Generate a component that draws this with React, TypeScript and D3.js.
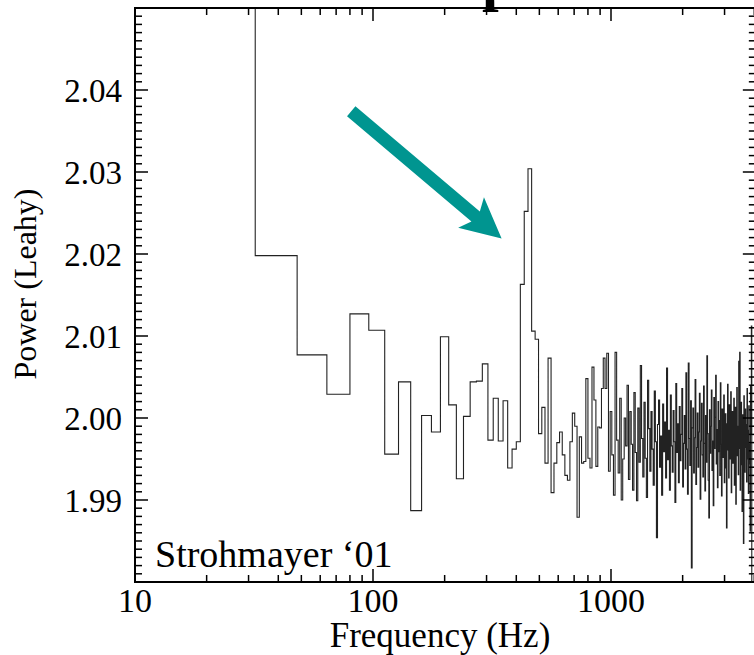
import React from "react";
import * as d3 from "d3";

// ---- data ----
const binWidth = 16; // Hz, linear bins
const firstBinStart = 16;
const powerValues: number[] = [
  2.08, 2.0198, 2.0077, 2.0029, 2.0127, 2.0107, 1.9956, 2.0044, 1.9887, 2.0003,
  1.9983, 2.0099, 2.0016, 1.9926, 2.0002, 2.0044, 2.0045, 2.0066, 1.9973, 2.0024,
  1.9972, 2.0021, 1.9939, 1.9962, 1.9971, 2.0163, 2.0252, 2.0304, 2.0106, 2.0096,
  1.9981, 2.0013, 1.9945, 2.0073, 1.9909, 1.9945, 1.997, 1.9983, 1.9955, 1.993,
  1.9924, 1.9971, 2.0006, 1.999, 1.9879, 1.9977, 1.9945, 1.9947, 2.0048, 1.9951,
  1.9939, 2.0062, 2.0022, 1.9941, 1.9989, 1.9988, 2.0036, 2.0073, 2.0036, 2.0079,
  1.9935, 2.0008, 1.9955, 1.9906, 2.008, 1.9973, 1.9933, 2.0024, 1.99, 1.995,
  2.0, 1.9966,
  2.004, 1.9925, 2.0008, 1.9968, 1.9912, 2.0031, 1.9958, 1.9899, 2.0012, 1.9946,
  2.0064, 1.9975, 1.9928, 2.0019, 1.9951, 1.9903, 2.0046, 1.9987, 1.9935, 2.0008,
  1.9962, 1.9918, 2.0033, 1.9971, 1.9854, 1.9992, 2.0022, 1.994, 1.9978, 1.9906,
  2.0017, 1.9959, 1.9995, 1.9927, 2.0061, 1.9949, 1.9985, 1.9912, 2.0028, 1.9966,
  1.9934, 2.0009, 1.9971, 1.9897, 2.0042, 1.9958, 1.9993, 1.9921, 2.0014, 1.9948,
  1.998, 2.0036, 1.9916, 1.9969, 2.0003, 1.9938, 2.0055, 1.9962, 1.9907, 2.0067,
  1.9975, 1.9942, 2.0021, 1.9817, 1.9988, 2.0012, 1.9933, 1.9976, 2.0047, 1.9919,
  1.9964, 2.0006, 1.994, 1.9983, 2.003, 1.9901, 1.9972, 2.0018, 1.9955, 1.9928,
  2.0039, 1.9969, 1.9911, 2.0003, 1.9946, 2.0076, 1.9981, 1.9924, 1.9878, 2.001,
  1.9957, 1.999, 2.0034, 1.9936, 1.9972, 1.9893, 2.0025, 1.9963, 2.0001, 2.0052,
  1.9944, 1.9986, 1.9915, 2.002, 1.9959, 1.9997, 1.993, 2.0043, 1.9968, 1.9905,
  2.0011, 1.9952, 1.9984, 2.0028, 1.9921, 1.9975, 2.0005, 1.9939, 1.9866, 1.9993,
  2.0041, 1.9961, 1.9927, 2.0016, 1.995, 1.9988, 2.0032, 1.9909, 1.9973, 2.0008,
  1.9945, 1.9982, 2.0024, 1.9918, 1.9966, 2.0013, 1.9895, 1.9979, 2.0037, 1.9954,
  1.999, 1.9931, 2.0069, 1.9963, 2.008, 1.9912, 1.9978, 2.0019, 1.9943, 1.9886,
  2.0004, 1.9958, 1.9847, 2.0027, 1.997, 1.9934, 2.0011, 1.9964, 1.9992, 1.9922,
  2.0036, 1.995, 1.9985, 1.9908, 2.0015, 1.9968, 1.9944, 1.9862, 2.0039, 1.9981,
  2.0112,
];
const xMajorTicks = [10, 100, 1000];
const xTickLabels = ["10", "100", "1000"];
const yTickLabels = [1.99, 2.0, 2.01, 2.02, 2.03, 2.04];
const xDomain: [number, number] = [10, 10000];
const xFrameMax = 4060;
const yDomain: [number, number] = [1.98, 2.05];
const arrowTail: [number, number] = [81, 2.0374];
const arrowTip: [number, number] = [347, 2.0219];
const annotation = "Strohmayer \u201801";
const titleFragment = "p";

const W = 754;
const H = 655;
const FONT = "'Liberation Serif', 'Times New Roman', serif";
const TEAL = "#009590";

export default function App() {
  const x = d3.scaleLog().domain(xDomain).range([135, 135 + 3 * 238]);
  const y = d3.scaleLinear().domain(yDomain).range([582, 8]);

  const left = x(xDomain[0]);
  const right = x(xFrameMax);
  const top = y(yDomain[1]);
  const bottom = y(yDomain[0]);

  const pts: [number, number][] = powerValues.map((v, i) => [
    firstBinStart + i * binWidth,
    v,
  ]);
  const lastEdge = firstBinStart + powerValues.length * binWidth;
  pts.push([lastEdge, powerValues[powerValues.length - 1]]);

  const line = d3
    .line<[number, number]>()
    .x((d) => x(d[0]))
    .y((d) => y(d[1]))
    .curve(d3.curveStepAfter);
  const pathD = line(pts) + `L${x(lastEdge)},${y(yDomain[0])}`;

  // ticks
  const xMinor: number[] = [];
  for (let dec = 10; dec < xFrameMax; dec *= 10) {
    for (let k = 2; k <= 9; k++) {
      const v = dec * k;
      if (v < xFrameMax) xMinor.push(v);
    }
  }
  const yMinor = d3
    .range(1981, 2050)
    .filter((i) => i % 10 !== 0)
    .map((i) => i / 1000);
  const yMajor = d3.range(198, 206).map((i) => i / 100);

  // arrow geometry
  const tx = x(arrowTail[0]);
  const ty = y(arrowTail[1]);
  const hx = x(arrowTip[0]);
  const hy = y(arrowTip[1]);
  const len = Math.hypot(hx - tx, hy - ty);
  const ux = (hx - tx) / len;
  const uy = (hy - ty) / len;
  const nx = -uy;
  const ny = ux;
  const shaftW = 13;
  const headW = 40;
  const headL = 40;
  const bx = hx - ux * headL;
  const by = hy - uy * headL;
  const arrowPts = [
    [tx + (nx * shaftW) / 2, ty + (ny * shaftW) / 2],
    [bx + (nx * shaftW) / 2 + ux * 6, by + (ny * shaftW) / 2 + uy * 6],
    [bx + (nx * headW) / 2, by + (ny * headW) / 2],
    [hx, hy],
    [bx - (nx * headW) / 2, by - (ny * headW) / 2],
    [bx - (nx * shaftW) / 2 + ux * 6, by - (ny * shaftW) / 2 + uy * 6],
    [tx - (nx * shaftW) / 2, ty - (ny * shaftW) / 2],
  ]
    .map((p) => p.join(","))
    .join(" ");

  const majLen = 13;
  const minLen = 7;

  return (
    <svg
      width={W}
      height={H}
      viewBox={`0 0 ${W} ${H}`}
      style={{ position: "absolute", left: 0, top: 0, background: "#fff" }}
      fontFamily={FONT}
    >
      <rect x={0} y={0} width={W} height={H} fill="#fff" />
      <defs>
        <clipPath id="plotClip">
          <rect x={left} y={top} width={right - left} height={bottom - top} />
        </clipPath>
      </defs>

      {/* title fragment (cut off at the top) */}
      <text x={482} y={-1} fontSize={60} fontWeight="bold" fill="#000">
        {titleFragment}
      </text>

      {/* data */}
      <path
        d={pathD}
        fill="none"
        stroke="#222"
        strokeWidth={1.1}
        clipPath="url(#plotClip)"
      />

      {/* ticks */}
      <g stroke="#000" strokeWidth={1.5}>
        {xMajorTicks.map((t) => (
          <g key={"xm" + t}>
            <line x1={x(t)} x2={x(t)} y1={bottom} y2={bottom - majLen} />
            <line x1={x(t)} x2={x(t)} y1={top} y2={top + majLen} />
          </g>
        ))}
        {xMinor.map((t) => (
          <g key={"xn" + t}>
            <line x1={x(t)} x2={x(t)} y1={bottom} y2={bottom - minLen} />
            <line x1={x(t)} x2={x(t)} y1={top} y2={top + minLen} />
          </g>
        ))}
        {yMajor.map((t) => (
          <g key={"ym" + t}>
            <line x1={left} x2={left + majLen} y1={y(t)} y2={y(t)} />
            <line x1={right} x2={right - majLen} y1={y(t)} y2={y(t)} />
          </g>
        ))}
        {yMinor.map((t) => (
          <g key={"yn" + t}>
            <line x1={left} x2={left + minLen} y1={y(t)} y2={y(t)} />
            <line x1={right} x2={right - minLen} y1={y(t)} y2={y(t)} />
          </g>
        ))}
      </g>

      {/* frame */}
      <rect
        x={left}
        y={top}
        width={right - left}
        height={bottom - top}
        fill="none"
        stroke="#000"
        strokeWidth={2}
      />

      {/* arrow */}
      <polygon points={arrowPts} fill={TEAL} />

      {/* tick labels */}
      {xMajorTicks.map((t, i) => (
        <text
          key={"xl" + t}
          x={x(t)}
          y={612}
          fontSize={34}
          textAnchor="middle"
          fill="#000"
        >
          {xTickLabels[i]}
        </text>
      ))}
      {yTickLabels.map((t) => (
        <text
          key={"yl" + t}
          x={left - 13}
          y={y(t) + 12}
          fontSize={33}
          textAnchor="end"
          fill="#000"
        >
          {d3.format(".2f")(t)}
        </text>
      ))}

      {/* axis titles */}
      <text x={440} y={647} fontSize={35} textAnchor="middle" fill="#000">
        Frequency (Hz)
      </text>
      <text
        transform={`translate(36, 284) rotate(-90)`}
        fontSize={32}
        textAnchor="middle"
        fill="#000"
      >
        Power (Leahy)
      </text>

      {/* annotation */}
      <text x={155} y={567} fontSize={38} fill="#000">
        {annotation}
      </text>
    </svg>
  );
}
